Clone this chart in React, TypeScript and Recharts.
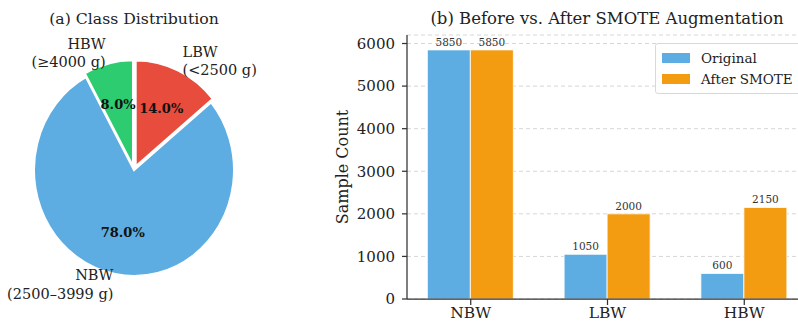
import React from "react";
import {
  PieChart,
  Pie,
  Cell,
  Sector,
  BarChart,
  Bar,
  XAxis,
  YAxis,
  CartesianGrid,
  Legend,
  LabelList,
  Label,
} from "recharts";

const pieNames = ["LBW", "NBW", "HBW"];
const pieRanges = ["(<2500 g)", "(2500–3999 g)", "(≥4000 g)"];
const pieShares = [14, 78, 8];
const pieColors = ["#E74C3C", "#5DADE2", "#2ECC71"];

const barCategories = ["NBW", "LBW", "HBW"];
const originalCounts = [5850, 1050, 600];
const smoteCounts = [5850, 2000, 2150];
const yTicks = [0, 1000, 2000, 3000, 4000, 5000, 6000];

const FONT = "'DejaVu Serif', serif";
const INK = "#222";
const AXIS = "#333";

// explode offsets in px and a slight vertical stretch of the pie
const explode = [4, 0, 4];
const STRETCH = 1.06;

const pieData = pieNames.map((name, i) => ({
  name,
  range: pieRanges[i],
  value: pieShares[i],
}));

const barData = barCategories.map((name, i) => ({
  name,
  original: originalCounts[i],
  smote: smoteCounts[i],
}));

const sliceIndex = (p: any) => pieNames.indexOf(p?.payload?.name ?? p?.name);

const shift = (midAngle: number, e: number) => {
  const a = (midAngle * Math.PI) / 180;
  return { dx: e * Math.cos(a), dy: -e * Math.sin(a) };
};

const renderSlice = (props: any) => {
  const { cx, cy, midAngle } = props;
  const { dx, dy } = shift(midAngle, explode[sliceIndex(props)] ?? 0);
  return (
    <g transform={`translate(${dx},${dy}) translate(${cx},${cy}) scale(1,${STRETCH}) translate(${-cx},${-cy})`}>
      <Sector {...props} />
    </g>
  );
};

const renderPieLabel = (props: any) => {
  const { cx, cy, midAngle, outerRadius } = props;
  const i = sliceIndex(props);
  const a = (midAngle * Math.PI) / 180;
  const { dx, dy } = shift(midAngle, explode[i] ?? 0);
  const ox = cx + dx + 1.1 * outerRadius * Math.cos(a);
  const oy = cy + dy - 1.1 * outerRadius * STRETCH * Math.sin(a);
  const px = cx + dx + 0.6 * outerRadius * Math.cos(a);
  const py = cy + dy - 0.6 * outerRadius * STRETCH * Math.sin(a);
  const anchor = Math.cos(a) < 0 ? "end" : "start";
  return (
    <g fontFamily={FONT}>
      <text x={ox} y={oy - 9.25} textAnchor={anchor} dominantBaseline="central" fontSize={14.5} fill={INK}>
        {pieNames[i]}
      </text>
      <text x={ox} y={oy + 9.25} textAnchor={anchor} dominantBaseline="central" fontSize={14.5} fill={INK}>
        {pieRanges[i]}
      </text>
      <text x={px} y={py} textAnchor="middle" dominantBaseline="central" fontSize={13} fontWeight="bold" fill="#111">
        {`${pieShares[i].toFixed(1)}%`}
      </text>
    </g>
  );
};

const renderLegend = () => (
  <div
    style={{
      border: "1px solid #d9d9d9",
      borderRadius: 3,
      background: "rgba(255,255,255,0.9)",
      padding: "4px 10px 4px 6px",
      fontFamily: FONT,
      fontSize: 13.5,
      color: INK,
      lineHeight: "20.5px",
    }}
  >
    {[
      { label: "Original", color: "#5DADE2" },
      { label: "After SMOTE", color: "#F39C12" },
    ].map((it) => (
      <div key={it.label} style={{ display: "flex", alignItems: "center", whiteSpace: "nowrap" }}>
        <span style={{ display: "inline-block", width: 28, height: 10, background: it.color, marginRight: 11 }} />
        {it.label}
      </div>
    ))}
  </div>
);

const renderYLabel = (props: any) => {
  const { viewBox } = props;
  const x = viewBox.x + 22;
  const y = viewBox.y + viewBox.height / 2;
  return (
    <text
      x={x}
      y={y}
      transform={`rotate(-90, ${x}, ${y})`}
      textAnchor="middle"
      dominantBaseline="central"
      fontFamily={FONT}
      fontSize={16}
      fill={INK}
    >
      Sample Count
    </text>
  );
};

const titleStyle = (center: number, size: number): React.CSSProperties => ({
  position: "absolute",
  top: 8,
  left: center - 250,
  width: 500,
  textAlign: "center",
  fontFamily: FONT,
  fontSize: size,
  color: INK,
  lineHeight: "22px",
});

export default function App() {
  const tickStyle = { fontFamily: FONT, fontSize: 15, fill: INK };
  return (
    <div
      style={{
        position: "fixed",
        left: 0,
        top: 0,
        width: 798,
        height: 324,
        overflow: "hidden",
        background: "#fff",
      }}
    >
      <div style={titleStyle(134, 15.7)}>(a) Class Distribution</div>
      <div style={titleStyle(607, 16.5)}>(b) Before vs. After SMOTE Augmentation</div>

      <div style={{ position: "absolute", left: 0, top: 0 }}>
        <PieChart width={290} height={324} margin={{ top: 0, right: 0, bottom: 0, left: 0 }}>
          <Pie
            data={pieData}
            dataKey="value"
            nameKey="name"
            cx={134}
            cy={170}
            outerRadius={100}
            startAngle={90}
            endAngle={-270}
            stroke="#fff"
            strokeWidth={2}
            labelLine={false}
            label={renderPieLabel}
            {...({ shape: renderSlice } as any)}
            inactiveShape={renderSlice}
            activeShape={renderSlice}
            isAnimationActive={false}
          >
            {pieData.map((d, i) => (
              <Cell key={d.name} fill={pieColors[i]} />
            ))}
          </Pie>
        </PieChart>
      </div>

      <div style={{ position: "absolute", left: 320, top: 0 }}>
        <BarChart
          width={500}
          height={324}
          data={barData}
          margin={{ top: 35, right: 12, bottom: 0, left: 0 }}
          barGap={0}
        >
          <CartesianGrid vertical={false} stroke="#d6d6d6" strokeDasharray="4 3" />
          <XAxis
            dataKey="name"
            height={25}
            padding={{ left: -4.65, right: -4.65 }}
            tick={{ ...tickStyle, fontSize: 15.5 }}
            tickSize={6}
            tickMargin={2}
            axisLine={{ stroke: AXIS, strokeWidth: 1.25 }}
            tickLine={{ stroke: AXIS, strokeWidth: 1.25 }}
          />
          <YAxis
            width={87}
            domain={[0, 6200]}
            ticks={yTicks}
            interval={0}
            tick={tickStyle}
            tickSize={5}
            tickMargin={7}
            axisLine={{ stroke: AXIS, strokeWidth: 1.25 }}
            tickLine={{ stroke: AXIS, strokeWidth: 1.25 }}
          >
            <Label content={renderYLabel} />
          </YAxis>
          <Legend
            layout="vertical"
            align="center"
            verticalAlign="middle"
            content={renderLegend}
            wrapperStyle={{ left: 335, top: 43, width: "auto" }}
          />
          <Bar dataKey="original" name="Original" fill="#5DADE2" stroke="#fff" strokeWidth={0.8} barSize={43} isAnimationActive={false}>
            <LabelList dataKey="original" position="top" offset={4} fontSize={10.5} fontFamily={FONT} fill="#333" />
          </Bar>
          <Bar dataKey="smote" name="After SMOTE" fill="#F39C12" stroke="#fff" strokeWidth={0.8} barSize={43} isAnimationActive={false}>
            <LabelList dataKey="smote" position="top" offset={4} fontSize={10.5} fontFamily={FONT} fill="#333" />
          </Bar>
        </BarChart>
      </div>
    </div>
  );
}
